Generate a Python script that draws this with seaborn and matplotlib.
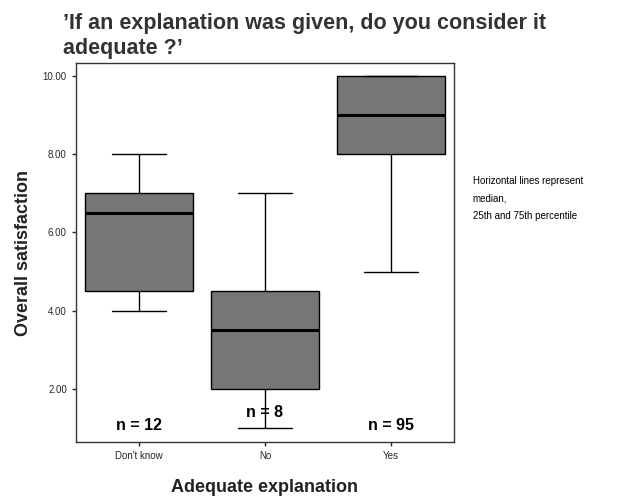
import pandas as pd
import seaborn as sns
import matplotlib.pyplot as plt

# five-number summaries (min, q1, median, q3, max)
dont_know = [4.0, 4.5, 6.5, 7.0, 8.0]
no = [1.0, 2.0, 3.5, 4.5, 7.0]
yes = [5.0, 8.0, 9.0, 10.0, 10.0]
categories = ["Don't know", "No", "Yes"]
counts = ["n = 12", "n = 8", "n = 95"]
count_y = [1.06, 1.39, 1.06]

df = pd.DataFrame({
    "group": [categories[0]] * 5 + [categories[1]] * 5 + [categories[2]] * 5,
    "score": dont_know + no + yes,
})

sns.set_style("ticks")
plt.rcParams["font.family"] = ["Liberation Sans", "DejaVu Sans"]

fig = plt.figure(figsize=(6.22, 5.01), dpi=100)
ax = fig.add_axes([0.122, 0.118, 0.608, 0.756])

sns.boxplot(data=df, x="group", y="score", order=categories, whis=(0, 100),
            width=0.86, color="#767676", saturation=1, linecolor="black",
            linewidth=1.0, medianprops={"linewidth": 2.2, "color": "black"},
            ax=ax)

for i, (txt, yy) in enumerate(zip(counts, count_y)):
    ax.text(i, yy, txt, ha="center", va="center", fontsize=11.5,
            fontweight="bold", color="black")

ax.set_xlim(-0.5, 2.5)
ax.set_ylim(0.65, 10.32)
ax.set_yticks([2, 4, 6, 8, 10])
ax.set_yticklabels(["2.00", "4.00", "6.00", "8.00", "10.00"])
ax.tick_params(labelsize=7, length=3, width=1)
for s in ax.spines.values():
    s.set_visible(True)
    s.set_linewidth(1)
    s.set_color("#333333")

ax.set_xlabel("Adequate explanation", fontsize=13, fontweight="bold",
              color="#222222", labelpad=13)
ax.set_ylabel("Overall satisfaction", fontsize=13, fontweight="bold",
              color="#222222", labelpad=8)

fig.text(0.101, 0.975, "\u2019If an explanation was given, do you consider it\nadequate ?\u2019",
         ha="left", va="top", fontsize=15.5, fontweight="bold", color="#333333",
         linespacing=1.25)

fig.text(0.760, 0.648, "Horizontal lines represent\nmedian,\n25th and 75th percentile",
         ha="left", va="top", fontsize=7, color="black", linespacing=1.9)

fig.savefig("out.png", dpi=100)
